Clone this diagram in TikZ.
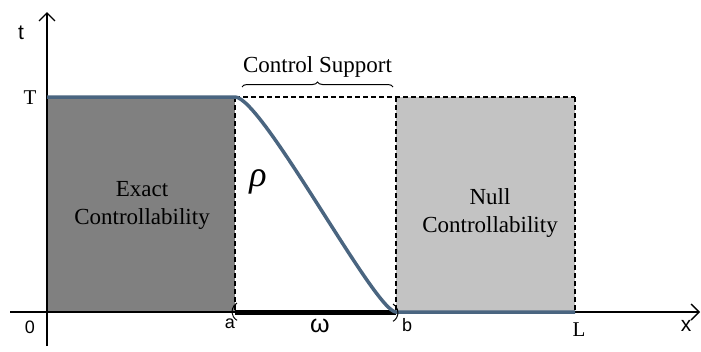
\documentclass[tikz,border=0pt]{standalone}
\usepackage{fontspec}
\setmainfont{Liberation Serif}
\newfontfamily\lblsans{Liberation Sans}
\usetikzlibrary{decorations.pathreplacing,arrows.meta}
\definecolor{curveblue}{HTML}{4A6580}
\definecolor{darkfill}{HTML}{808080}
\definecolor{lightfill}{HTML}{C3C3C3}
\tikzset{
  axisline/.style={line width=1.4pt,-{Straight Barb[length=8pt,width=16pt]}},
  boxedge/.style={line width=1.2pt,dash pattern=on 5pt off 3pt},
  curveline/.style={curveblue,line width=3.5pt},
  sanslbl/.style={font=\lblsans\fontsize{18}{18}\selectfont,inner sep=0pt},
  seriflbl/.style={font=\fontsize{21}{21}\selectfont,inner sep=0pt},
  regiontext/.style={font=\fontsize{23}{28}\selectfont,align=center,inner sep=0pt}
}
\begin{document}
\begin{tikzpicture}[x=1pt,y=-1pt]
\useasboundingbox (0,0) rectangle (701,351);
% key coordinates
\coordinate (O) at (47,312);
\coordinate (A) at (235,312);
\coordinate (B) at (396,312);
\coordinate (Lx) at (575,312);
\coordinate (TO) at (47,97);
\coordinate (TA) at (235,97);
\coordinate (TB) at (396,97);
\coordinate (TL) at (575,97);
\coordinate (xs) at (10,312);
\coordinate (xe) at (700,312);
\coordinate (ys) at (47,346);
\coordinate (ye) at (47,12);
% regions
\fill[darkfill] (TO) rectangle (A);
\fill[lightfill] (TB) rectangle (Lx);
% dashed edges
\draw[boxedge] (TA) -- (A);
\draw[boxedge] (TA) -- (TL);
\draw[boxedge] (TB) -- (B);
\draw[boxedge] (TL) -- (Lx);
% axes
\draw[axisline] (xs) -- (xe);
\draw[axisline] (ys) -- (ye);
% control set omega
\draw[line width=5pt] (A) -- (B);
% curve
\draw[curveline] (TO) -- (TA) .. controls (262,97) and (375,312) .. (B) -- (Lx);
% small parentheses
\draw[line width=1pt] (237,303) arc[start angle=120,end angle=240,radius=10pt];
\draw[line width=1pt] (393,304) arc[start angle=60,end angle=-60,radius=10pt];
% brace
\coordinate (br1) at (242,87);
\coordinate (br2) at (393,87);
\draw[line width=1pt,decorate,decoration={brace,amplitude=5pt}] (br1) -- (br2)
  node[midway,above=9pt,font=\fontsize{23}{23}\selectfont,inner sep=0pt] (cs) {Control Support};
% labels
\node[sanslbl,font=\lblsans\fontsize{21}{21}\selectfont] (tl) at (21,33) {t};
\node[seriflbl] (Tl) at (30,98) {T};
\node[sanslbl] (zl) at (30,327) {0};
\node[sanslbl] (al) at (230,324) {a};
\node[sanslbl] (bl) at (407,325) {b};
\node[seriflbl] (Ll) at (579,330) {L};
\node[sanslbl,font=\lblsans\fontsize{21}{21}\selectfont] (xl) at (686,326) {x};
\node[inner sep=0pt,font=\lblsans\fontsize{25}{25}\selectfont] (wl) at (320,326) {ω};
\node[inner sep=0pt,font=\itshape\fontsize{36}{36}\selectfont] (rl) at (258,182) {ρ};
\node[regiontext] (ex) at (142,205) {Exact\\Controllability};
\node[regiontext] (nu) at (490,213) {Null\\Controllability};
\end{tikzpicture}
\end{document}
